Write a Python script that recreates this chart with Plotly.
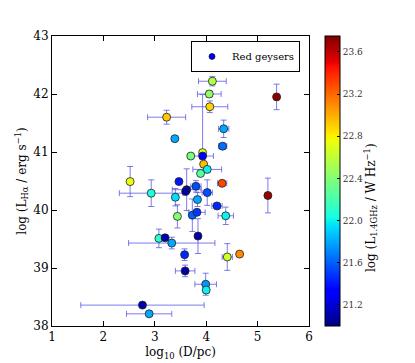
import numpy as np
import plotly.graph_objects as go

# ---- data ----
log_D = [4.12, 4.06, 4.07, 3.23, 3.39, 5.37, 4.34, 4.32, 3.93, 3.93,
         3.70, 3.95, 4.02, 3.89, 3.47, 3.80, 3.62, 3.60, 4.31, 4.02,
         3.40, 2.93, 3.83, 4.21, 4.38, 3.44, 3.73, 3.82, 5.20, 3.08,
         3.20, 3.33, 3.84, 3.58, 3.59, 4.41, 4.65, 3.99, 4.00, 2.76,
         2.89, 2.52]
log_LHa = [42.22, 42.00, 41.78, 41.60, 41.23, 41.95, 41.40, 41.10, 40.99, 40.93,
           40.93, 40.79, 40.70, 40.63, 40.49, 40.41, 40.35, 40.32, 40.46, 40.30,
           40.22, 40.29, 40.18, 40.07, 39.90, 39.89, 39.91, 39.96, 40.25, 39.51,
           39.52, 39.43, 39.55, 39.23, 38.95, 39.19, 39.24, 38.72, 38.62, 38.36,
           38.21, 40.49]
log_L14 = [22.55, 22.45, 22.88, 22.92, 21.80, 23.72, 21.80, 21.65, 22.70, 21.30,
           22.35, 22.95, 22.00, 22.25, 21.40, 21.55, 21.10, 21.08, 23.30, 21.55,
           21.95, 22.05, 21.80, 21.45, 22.00, 22.40, 21.60, 21.50, 23.70, 22.10,
           21.12, 21.80, 21.08, 21.45, 21.08, 22.65, 23.10, 21.75, 22.00, 21.12,
           21.80, 22.75]
err_D = [0.27, 0.23, 0.35, 0.37, None, None, 0.10, 0.08, None, 0.21,
         None, None, 0.28, None, None, 0.10, 0.28, None, 0.09, 0.10,
         None, 0.62, None, 0.10, 0.15, None, None, 0.16, None, None,
         None, 0.84, None, None, 0.19, 0.10, None, 0.21, None, 1.20,
         0.44, None]
err_LHa_plus = [0.08, 0.06, 0.10, 0.12, None, 0.22, 0.15, 0.05, 1.00, 0.05,
                None, None, 0.05, None, None, 0.10, 0.36, None, None, 0.22,
                0.15, 0.23, 0.12, None, 0.15, 0.20, 0.28, None, 0.30, 0.16,
                None, 0.10, 0.30, 0.10, 0.10, 0.23, None, 0.19, 0.05, None,
                None, 0.26]
err_LHa_minus = [0.08, 0.06, 0.10, 0.12, None, 0.22, 0.15, 0.05, 0.05, 0.05,
                 None, None, 0.05, None, None, 0.10, 0.36, None, None, 0.22,
                 0.15, 0.23, 0.12, None, 0.15, 0.20, 0.28, None, 0.30, 0.16,
                 None, 0.10, 0.30, 0.10, 0.10, 0.23, None, 0.19, 0.05, None,
                 None, 0.26]
x_ticks = [1, 2, 3, 4, 5, 6]
y_ticks = [38, 39, 40, 41, 42, 43]
cbar_ticks = [21.2, 21.6, 22.0, 22.4, 22.8, 23.2, 23.6]

# ---- matplotlib-like jet colorscale ----
red = [(0, 0), (0.35, 0), (0.66, 1), (0.89, 1), (1, 0.5)]
green = [(0, 0), (0.125, 0), (0.375, 1), (0.64, 1), (0.91, 0), (1, 0)]
blue = [(0, 0.5), (0.11, 1), (0.34, 1), (0.65, 0), (1, 0)]
stops = sorted(set([p[0] for p in red + green + blue]))
def ch(seg, s):
    return np.interp(s, [p[0] for p in seg], [p[1] for p in seg])
jet = [[s, "rgb(%d,%d,%d)" % (round(255 * ch(red, s)), round(255 * ch(green, s)),
                              round(255 * ch(blue, s)))] for s in stops]

FONT = "DejaVu Serif"
errc = "rgba(80,80,230,0.75)"

fig = go.Figure()
fig.add_trace(go.Scatter(
    x=log_D, y=log_LHa, mode="markers", showlegend=False,
    error_x=dict(type="data", array=err_D, color=errc, thickness=1, width=3),
    error_y=dict(type="data", symmetric=False, array=err_LHa_plus,
                 arrayminus=err_LHa_minus, color=errc, thickness=1, width=3),
    marker=dict(size=8, color=log_L14, colorscale=jet, cmin=21.0, cmax=23.75,
                line=dict(color="#222", width=0.8),
                colorbar=dict(
                    x=1.062, xanchor="left", y=0.5, yanchor="middle",
                    len=1.0, lenmode="fraction", thickness=15, ypad=0, xpad=0,
                    outlinecolor="#000", outlinewidth=1,
                    tickvals=cbar_ticks, ticktext=["%.1f" % t for t in cbar_ticks],
                    ticks="inside", ticklen=3, tickcolor="#000",
                    tickfont=dict(family=FONT, size=9, color="#333"),
                )),
))
fig.add_trace(go.Scatter(
    x=[None], y=[None], mode="markers", name="Red geysers",
    marker=dict(size=6, color="#0000ff", line=dict(color="#000", width=0.6)),
))

axis_common = dict(showline=True, linecolor="#000", linewidth=1, mirror="ticks",
                   ticks="inside", ticklen=5, tickcolor="#000", showgrid=False,
                   zeroline=False, automargin=False,
                   tickfont=dict(family=FONT, size=12, color="#000"))
fig.update_xaxes(range=[1, 6], tickvals=x_ticks,
                 title=dict(text="log<sub>10</sub> (D/pc)", font=dict(family=FONT, size=12, color="#000"),
                            standoff=4), **axis_common)
fig.update_yaxes(range=[38, 43], tickvals=y_ticks,
                 title=dict(text="log (L<sub>Hα</sub> / erg s<sup>−1</sup>)",
                            font=dict(family=FONT, size=12, color="#000"), standoff=4),
                 **axis_common)

fig.add_annotation(
    text="log (L<sub>1.4GHz</sub> / W Hz<sup>−1</sup>)", textangle=-90,
    xref="paper", yref="paper", x=1.241, y=0.41, xanchor="center", yanchor="middle",
    showarrow=False, font=dict(family=FONT, size=12, color="#000"),
)

fig.update_layout(
    width=407, height=355,
    margin=dict(l=44, r=106, t=28, b=37),
    paper_bgcolor="white", plot_bgcolor="white",
    font=dict(family=FONT, color="#000"),
    legend=dict(x=0.965, xanchor="right", y=0.983, yanchor="top",
                bgcolor="white", bordercolor="#000", borderwidth=1,
                font=dict(family=FONT, size=10, color="#000"), itemwidth=30,
                tracegroupgap=0),
)
fig.write_html("out.html")
